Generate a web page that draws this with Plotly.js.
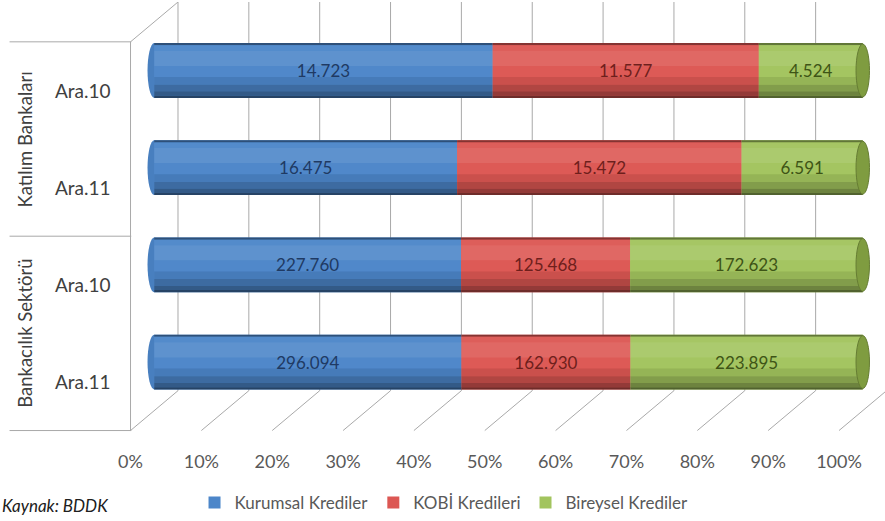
<!DOCTYPE html>
<html>
<head>
<meta charset="utf-8">
<script src="https://cdn.plot.ly/plotly-3.0.1.min.js"></script>
<style>
html,body{margin:0;padding:0;background:#fff;}
#chart{width:885px;height:521px;}
</style>
</head>
<body>
<div id="chart"></div>
<script>
// ---- data ----
const groups = ['Katılım Bankaları', 'Bankacılık Sektörü'];
const periods = ['Ara.10', 'Ara.11', 'Ara.10', 'Ara.11'];
const seriesNames = ['Kurumsal Krediler', 'KOBİ Kredileri', 'Bireysel Krediler'];
const kurumsal = [14723, 16475, 227760, 296094];
const kobi = [11577, 15472, 125468, 162930];
const bireysel = [4524, 6591, 172623, 223895];
const tickValues = [0, 0.1, 0.2, 0.3, 0.4, 0.5, 0.6, 0.7, 0.8, 0.9, 1];
const tickLabels = ['0%', '10%', '20%', '30%', '40%', '50%', '60%', '70%', '80%', '90%', '100%'];
const sourceNote = 'Kaynak: BDDK';

// ---- styling ----
const seriesColors = ['#4c86c9', '#dc5753', '#a2c45e'];
const labelColors = ['#1f3a63', '#6e1f1c', '#3e5416'];
const capColors = ['#3a6aa3', '#b0403c', '#7f9c40'];
const FONT = 'Lato, "Open Sans", sans-serif';
const BW = 0.564;        // bar thickness (category units)
const DX = 0.0335;       // half depth along x (value units)
const DY = 0.205;        // half depth along y (category units)
const GRID = '#a9a9a9';

const values = [kurumsal, kobi, bireysel];
const idx = periods.map((_, i) => i);
const totals = idx.map(i => values.reduce((s, arr) => s + arr[i], 0));
const pct = values.map(arr => arr.map((v, i) => v / totals[i]));
const bases = values.map((_, s) => idx.map(i => {
  let b = 0; for (let k = 0; k < s; k++) b += pct[k][i]; return b;
}));
const ends = idx.map(i => pct.reduce((s, arr) => s + arr[i], 0));

function fmt(v) { return String(v).replace(/\B(?=(\d{3})+(?!\d))/g, '.'); }
function shade(hex, f) {
  const n = parseInt(hex.slice(1), 16);
  let r = (n >> 16) & 255, g = (n >> 8) & 255, b = n & 255;
  const t = f >= 0 ? 255 : 0, a = Math.abs(f);
  r = Math.round(r + (t - r) * a); g = Math.round(g + (t - g) * a); b = Math.round(b + (t - b) * a);
  return 'rgb(' + r + ',' + g + ',' + b + ')';
}

// cylinder shading bands: [from, to, shade] as fractions of bar thickness (top->bottom)
const bands = [
  [0.00, 0.04, -0.40],
  [0.04, 0.14, 0.04],
  [0.14, 0.42, 0.10],
  [0.42, 0.62, 0.02],
  [0.62, 0.76, -0.08],
  [0.76, 0.88, -0.20],
  [0.88, 0.96, -0.33],
  [0.96, 1.00, -0.50]
];

const traces = [];
// main (legend) traces
values.forEach((arr, s) => {
  traces.push({
    type: 'bar', orientation: 'h', name: seriesNames[s],
    y: idx, x: pct[s], base: bases[s],
    width: BW, offset: -BW / 2,
    marker: { color: seriesColors[s], line: { width: 0 } },
    hoverinfo: 'skip'
  });
});
// shading bands
values.forEach((arr, s) => {
  bands.forEach(b => {
    traces.push({
      type: 'bar', orientation: 'h', showlegend: false,
      y: idx, x: pct[s], base: bases[s],
      width: (b[1] - b[0]) * BW, offset: -BW / 2 + b[0] * BW,
      marker: { color: shade(seriesColors[s], b[2]), line: { width: 0 } },
      hoverinfo: 'skip'
    });
  });
});
// value labels
values.forEach((arr, s) => {
  traces.push({
    type: 'bar', orientation: 'h', showlegend: false,
    y: idx, x: pct[s], base: bases[s],
    width: BW, offset: -BW / 2,
    marker: { color: 'rgba(0,0,0,0)', line: { width: 0 } },
    text: arr.map(fmt), textposition: 'inside', insidetextanchor: 'middle',
    textangle: 0, constraintext: 'none',
    textfont: { family: FONT, size: 17, color: labelColors[s] },
    hoverinfo: 'skip'
  });
});

// ---- 3D frame shapes ----
const shapes = [];
const yTopBack = -0.5 - DY, yBotBack = (periods.length - 0.5) - DY;
const yTopFront = -0.5 + DY, yBotFront = (periods.length - 0.5) + DY;
tickValues.forEach(t => {
  // back wall gridline
  shapes.push({ type: 'line', layer: 'below', xref: 'x', yref: 'y',
    x0: t + DX, x1: t + DX, y0: yTopBack, y1: yBotBack, line: { color: GRID, width: 1 } });
  // floor diagonal
  shapes.push({ type: 'line', layer: 'below', xref: 'x', yref: 'y',
    x0: t - DX, x1: t + DX, y0: yBotFront, y1: yBotBack, line: { color: GRID, width: 1 } });
});
// left wall front edge and top diagonal
shapes.push({ type: 'line', layer: 'below', xref: 'x', yref: 'y',
  x0: -DX, x1: -DX, y0: yTopFront, y1: yBotFront, line: { color: GRID, width: 1 } });
shapes.push({ type: 'line', layer: 'below', xref: 'x', yref: 'y',
  x0: -DX, x1: DX, y0: yTopFront, y1: yTopBack, line: { color: GRID, width: 1 } });
// category group separators on the left
const groupEdges = [yTopFront, 1.5 + DY, yBotFront];
groupEdges.forEach(y => {
  shapes.push({ type: 'line', layer: 'below', xref: 'paper', yref: 'y',
    x0: -0.158, x1: 0.003, y0: y, y1: y, line: { color: GRID, width: 1 } });
});
// cylinder ends
const EX = 0.0095;
idx.forEach(i => {
  shapes.push({ type: 'circle', layer: 'below', xref: 'x', yref: 'y',
    x0: -EX, x1: EX, y0: i - BW / 2, y1: i + BW / 2,
    fillcolor: shade(seriesColors[0], -0.05), line: { width: 0 } });
  shapes.push({ type: 'circle', layer: 'above', xref: 'x', yref: 'y',
    x0: ends[i] - EX, x1: ends[i] + EX, y0: i - BW / 2 + 0.01, y1: i + BW / 2 - 0.01,
    fillcolor: capColors[2], line: { color: shade(capColors[2], -0.2), width: 1 } });
});

// ---- annotations ----
const annotations = [];
periods.forEach((p, i) => {
  annotations.push({ xref: 'paper', yref: 'y', x: -0.0602, y: i + DY, text: p,
    showarrow: false, xanchor: 'center', yanchor: 'middle',
    font: { family: FONT, size: 19, color: '#404040' } });
});
groups.forEach((g, k) => {
  annotations.push({ xref: 'paper', yref: 'y', x: -0.137, y: 2 * k + 0.5 + DY, text: g,
    showarrow: false, textangle: -90, xanchor: 'center', yanchor: 'middle',
    font: { family: FONT, size: 18.5, color: '#404040' } });
});
annotations.push({ xref: 'paper', yref: 'paper', x: -0.171, y: -0.2005, text: '<i>' + sourceNote + '</i>',
  showarrow: false, xanchor: 'left', yanchor: 'bottom',
  font: { family: FONT, size: 17, color: '#202020' } });

const layout = {
  width: 885, height: 521,
  margin: { l: 129, r: 0, t: 2, b: 87.6 },
  paper_bgcolor: '#ffffff', plot_bgcolor: 'rgba(0,0,0,0)',
  barmode: 'overlay',
  xaxis: {
    range: [-0.03564, -0.03564 + 756 / 708.5],
    showgrid: false, zeroline: false, showline: false,
    tickmode: 'array', tickvals: tickValues.map(t => t - DX), ticktext: tickLabels,
    ticks: 'outside', ticklen: 13, tickcolor: 'rgba(0,0,0,0)',
    tickfont: { family: FONT, size: 18, color: '#595959' }, fixedrange: true
  },
  yaxis: {
    range: [3.72, -0.705],
    showgrid: false, zeroline: false, showline: false, showticklabels: false, ticks: '',
    fixedrange: true
  },
  legend: {
    orientation: 'h', x: 0.4167, xanchor: 'center', y: -0.166, yanchor: 'middle',
    font: { family: FONT, size: 17, color: '#595959' },
    bgcolor: 'rgba(0,0,0,0)', itemclick: false, itemdoubleclick: false
  },
  shapes: shapes,
  annotations: annotations,
  showlegend: true
};

Plotly.newPlot('chart', traces, layout, { displayModeBar: false, staticPlot: true });
</script>
</body>
</html>
